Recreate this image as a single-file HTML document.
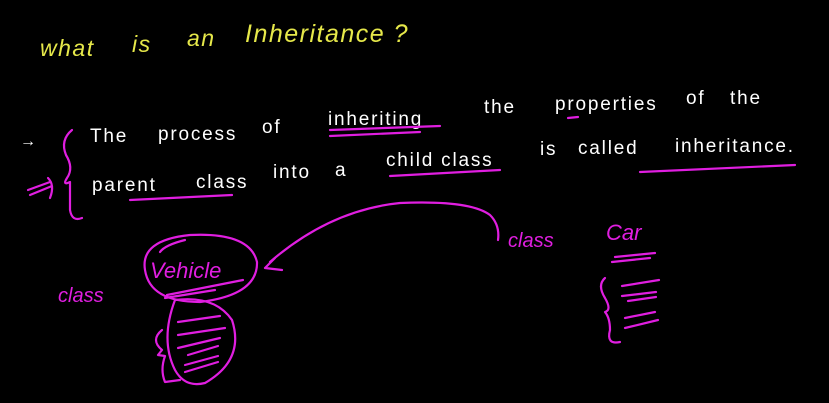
<!DOCTYPE html>
<html><head><meta charset="utf-8"><style>
html,body{margin:0;padding:0;background:#000;width:829px;height:403px;overflow:hidden}
svg{display:block}
text{font-family:"Liberation Sans",sans-serif}
</style></head><body>
<svg width="829" height="403" viewBox="0 0 829 403" xmlns="http://www.w3.org/2000/svg">
<rect width="829" height="403" fill="#000"/>
<g fill="#e6e84a" font-size="23" font-style="italic" letter-spacing="1.5">
<text x="40" y="56">what</text><text x="132" y="52">is</text><text x="187" y="46">an</text>
<text x="245" y="42" font-size="25">Inheritance ?</text>
</g>
<g fill="#fff" font-size="19" letter-spacing="1.8">
<text x="20" y="146" font-size="16">→</text>
<text x="90" y="142">The</text><text x="158" y="140">process</text><text x="262" y="133">of</text>
<text x="328" y="125">inheriting</text><text x="484" y="113">the</text><text x="555" y="110">properties</text>
<text x="686" y="104">of</text><text x="730" y="104">the</text>
<text x="92" y="191">parent</text><text x="196" y="188">class</text><text x="273" y="178">into</text>
<text x="335" y="176">a</text><text x="386" y="166">child class</text><text x="540" y="155">is</text>
<text x="578" y="154">called</text><text x="675" y="152">inheritance.</text>
</g>
<g fill="none" stroke="#e01ee0" stroke-width="2.2" stroke-linecap="round" stroke-linejoin="round">
<path d="M330 130 L440 126 M330 136 L420 132"/>
<path d="M568 118 L578 117"/>
<path d="M130 200 L232 195"/>
<path d="M390 176 L500 170"/>
<path d="M640 172 L795 165"/>
<path d="M72 130 Q60 140 66 155 Q74 168 67 178 Q62 186 70 182 L70 210 Q72 222 82 218"/>
<path d="M28 190 L50 182 M30 195 L52 186 M48 178 Q55 185 50 198"/>
<path d="M145 270 Q140 240 190 235 Q250 232 257 262 Q258 295 200 302 Q150 302 145 270 Z"/>
<path d="M160 252 Q165 245 185 240"/>
<path d="M167 295 L243 280 M165 298 L215 290"/>
<path d="M265 268 L275 258 M265 268 L282 270 M270 262 Q330 210 400 203 Q470 200 490 215 Q500 225 498 240"/>
<path d="M175 300 Q215 295 232 320 Q245 360 205 383 Q185 388 175 370 Q160 340 175 300 Z"/>
<path d="M178 322 L220 316 M178 335 L225 328 M178 348 L220 338 M188 355 L218 346 M185 365 L218 356 M185 372 L218 362"/>
<path d="M162 330 Q150 340 162 350 L158 355 L165 356 Q160 370 165 382 L180 380"/>
<path d="M615 257 L655 253 M612 262 L650 258"/>
<path d="M622 286 L659 280 M622 296 L656 292 M628 301 L656 297 M625 318 L655 312 M625 328 L658 320"/>
<path d="M605 278 Q597 285 605 298 Q612 310 605 312 Q610 318 610 330 Q606 345 620 342"/>
</g>
<g fill="#e01ee0" font-size="20" font-style="italic">
<text x="58" y="302">class</text><text x="150" y="278" font-size="22">Vehicle</text>
<text x="508" y="247">class</text><text x="606" y="240" font-size="22">Car</text>
</g>
</svg>
</body></html>
